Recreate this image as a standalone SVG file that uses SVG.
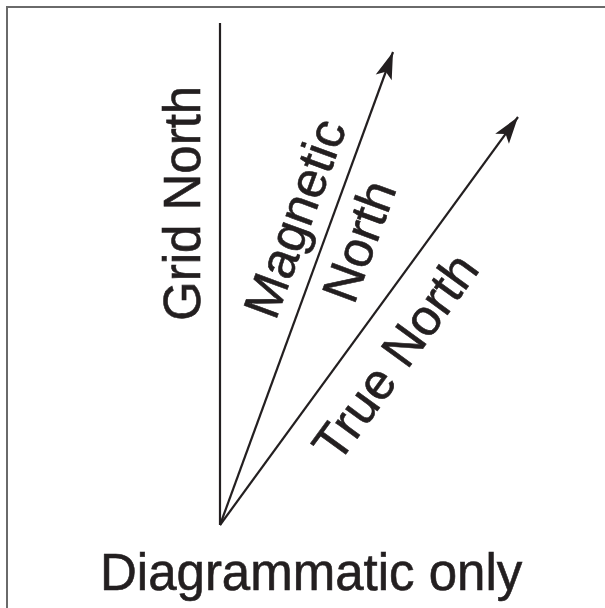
<svg xmlns="http://www.w3.org/2000/svg" width="605" height="608" viewBox="0 0 605 608">
<defs>
<style>
.lbl{font-family:"Liberation Sans",Arial,sans-serif;font-size:51px;fill:#231f20;stroke:#231f20;stroke-width:0.6}
.ln{stroke:#231f20;stroke-width:2.2;fill:none}
</style>
<marker id="ah" markerUnits="userSpaceOnUse" viewBox="-30 -10 32 20" refX="0" refY="0" markerWidth="32" markerHeight="20" orient="auto">
<path d="M0,0 L-27,-8.5 L-21,0 L-27,8.5 Z" fill="#231f20"/>
</marker>
</defs>
<rect width="605" height="608" fill="#ffffff"/>
<path d="M7,608 V7 H605" fill="none" stroke="#6a6a6a" stroke-width="2"/>
<g id="connectors">
<line class="ln" x1="220" y1="525" x2="220" y2="23"/>
<line class="ln" x1="220" y1="525" x2="393" y2="52" marker-end="url(#ah)"/>
<line class="ln" x1="220" y1="525" x2="518" y2="117" marker-end="url(#ah)"/>
</g>
<g id="grid-north"><text class="lbl" transform="translate(200,321) rotate(-90)">Grid North</text></g>
<g id="magnetic-north">
<text class="lbl" transform="translate(275.6,321.6) rotate(-69.8)">Magnetic</text>
<text class="lbl" transform="translate(353.9,305.7) rotate(-69.8)">North</text>
</g>
<g id="true-north"><text class="lbl" transform="translate(338.1,465.1) rotate(-53.9)">True North</text></g>
<g id="caption"><text class="lbl" x="100" y="590">Diagrammatic only</text></g>
</svg>
